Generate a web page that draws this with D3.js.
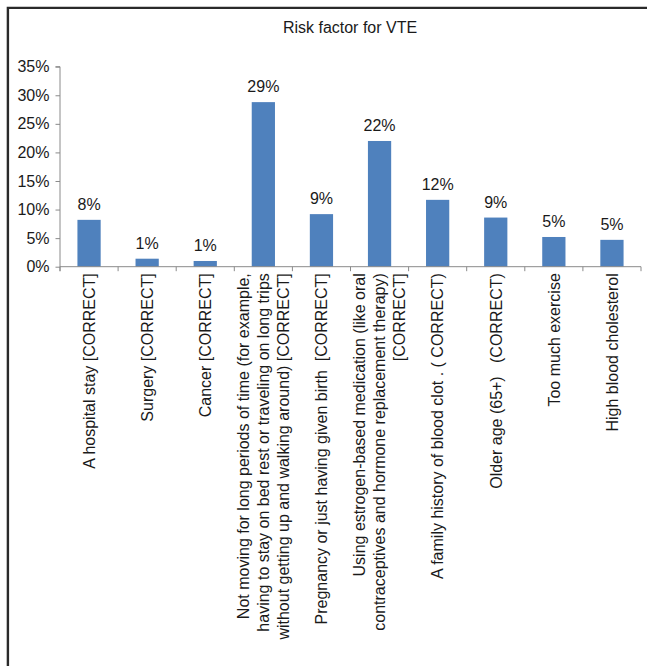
<!DOCTYPE html>
<html>
<head>
<meta charset="utf-8">
<script src="https://cdn.jsdelivr.net/npm/d3@7"></script>
<style>
  html, body { margin: 0; padding: 0; background: #fff; }
  svg { display: block; }
  text { font-family: "Liberation Sans", Arial, sans-serif; fill: #1a1a1a; white-space: pre; }
</style>
</head>
<body>
<svg id="chart" width="647" height="666"></svg>
<script>
// Risk factors for VTE: share of respondents choosing each factor
const chartTitle = "Risk factor for VTE";

const categories = [
  ["A hospital stay [CORRECT]"],
  ["Surgery [CORRECT]"],
  ["Cancer [CORRECT]"],
  ["Not moving for long periods of time (for example,",
   "having to stay on bed rest or traveling on long trips",
   "without getting up and walking around) [CORRECT]"],
  ["Pregnancy or just having given birth  [CORRECT]"],
  ["Using estrogen-based medication (like oral",
   "contraceptives and hormone replacement therapy)",
   "[CORRECT]"],
  ["A family history of blood clot . ( CORRECT)"],
  ["Older age (65+)   (CORRECT)"],
  ["Too much exercise"],
  ["High blood cholesterol"]
];

const shares = [0.082, 0.014, 0.010, 0.288, 0.092, 0.220, 0.117, 0.086, 0.052, 0.047];

const yTicks = [0, 0.05, 0.10, 0.15, 0.20, 0.25, 0.30, 0.35];

const svg = d3.select("#chart");
const W = 647, H = 666;
const plot = { left: 60, top: 66.7, width: 581, height: 200 };
const fontSize = 16;
const axisColor = "#8a8a8a";
const barColor = "#4f81bd";

// frame around the chart area (top and left edges)
svg.append("path")
  .attr("d", `M7.9,${H} V7.9 H${W}`)
  .attr("fill", "none")
  .attr("stroke", "#2a2a2a")
  .attr("stroke-width", 2.4);

svg.append("text")
  .attr("x", 350)
  .attr("y", 33.3)
  .attr("text-anchor", "middle")
  .attr("font-size", fontSize)
  .text(chartTitle);

const x = d3.scaleBand()
  .domain(d3.range(categories.length))
  .range([plot.left, plot.left + plot.width])
  .paddingInner(0.6)
  .paddingOuter(0.3);

const xBand = d3.scaleBand()
  .domain(d3.range(categories.length))
  .range([plot.left, plot.left + plot.width]);

const y = d3.scaleLinear()
  .domain([0, 0.35])
  .range([plot.top + plot.height, plot.top]);

// y axis
const yAxis = svg.append("g")
  .attr("transform", `translate(${plot.left},0)`)
  .call(d3.axisLeft(y).tickValues(yTicks).tickFormat(d3.format(".0%")).tickSize(4.5).tickPadding(6));
yAxis.select(".domain").attr("stroke", axisColor).attr("d", `M-4.5,${y(0.35)}H0V${y(0) + 4.5}`);
yAxis.selectAll(".tick line").attr("stroke", axisColor);
yAxis.selectAll(".tick text")
  .attr("font-size", fontSize)
  .attr("font-family", '"Liberation Sans", Arial, sans-serif')
  .attr("fill", "#1a1a1a");

// bars
svg.append("g")
  .selectAll("rect")
  .data(shares)
  .join("rect")
  .attr("x", (d, i) => x(i))
  .attr("width", x.bandwidth())
  .attr("y", d => y(d))
  .attr("height", d => y(0) - y(d))
  .attr("fill", barColor);

// value labels
svg.append("g")
  .selectAll("text")
  .data(shares)
  .join("text")
  .attr("x", (d, i) => x(i) + x.bandwidth() / 2)
  .attr("y", d => y(d) - 10)
  .attr("text-anchor", "middle")
  .attr("font-size", fontSize)
  .text(d => d3.format(".0%")(d));

// x axis with tick marks at the category boundaries
const xAxis = svg.append("g").attr("transform", `translate(0,${y(0)})`);
xAxis.append("line")
  .attr("x1", plot.left).attr("x2", plot.left + plot.width)
  .attr("stroke", axisColor);
xAxis.selectAll(".bound")
  .data(d3.range(categories.length + 1))
  .join("line")
  .attr("class", "bound")
  .attr("x1", i => i < categories.length ? xBand(i) : plot.left + plot.width)
  .attr("x2", i => i < categories.length ? xBand(i) : plot.left + plot.width)
  .attr("y1", 0).attr("y2", 4.5)
  .attr("stroke", axisColor);

// rotated category labels
const lineHeight = 20;
const labels = svg.append("g")
  .selectAll("g")
  .data(categories)
  .join("g")
  .attr("transform", (d, i) => `translate(${xBand(i) + xBand.bandwidth() / 2},${y(0) + 6.5}) rotate(-90)`);

labels.each(function(lines) {
  const t = d3.select(this).append("text")
    .attr("text-anchor", "end")
    .attr("font-size", fontSize);
  const n = lines.length;
  lines.forEach((ln, k) => {
    t.append("tspan")
      .attr("x", 0)
      .attr("y", (k - (n - 1) / 2) * lineHeight + 0.36 * fontSize)
      .text(ln);
  });
});
</script>
</body>
</html>
